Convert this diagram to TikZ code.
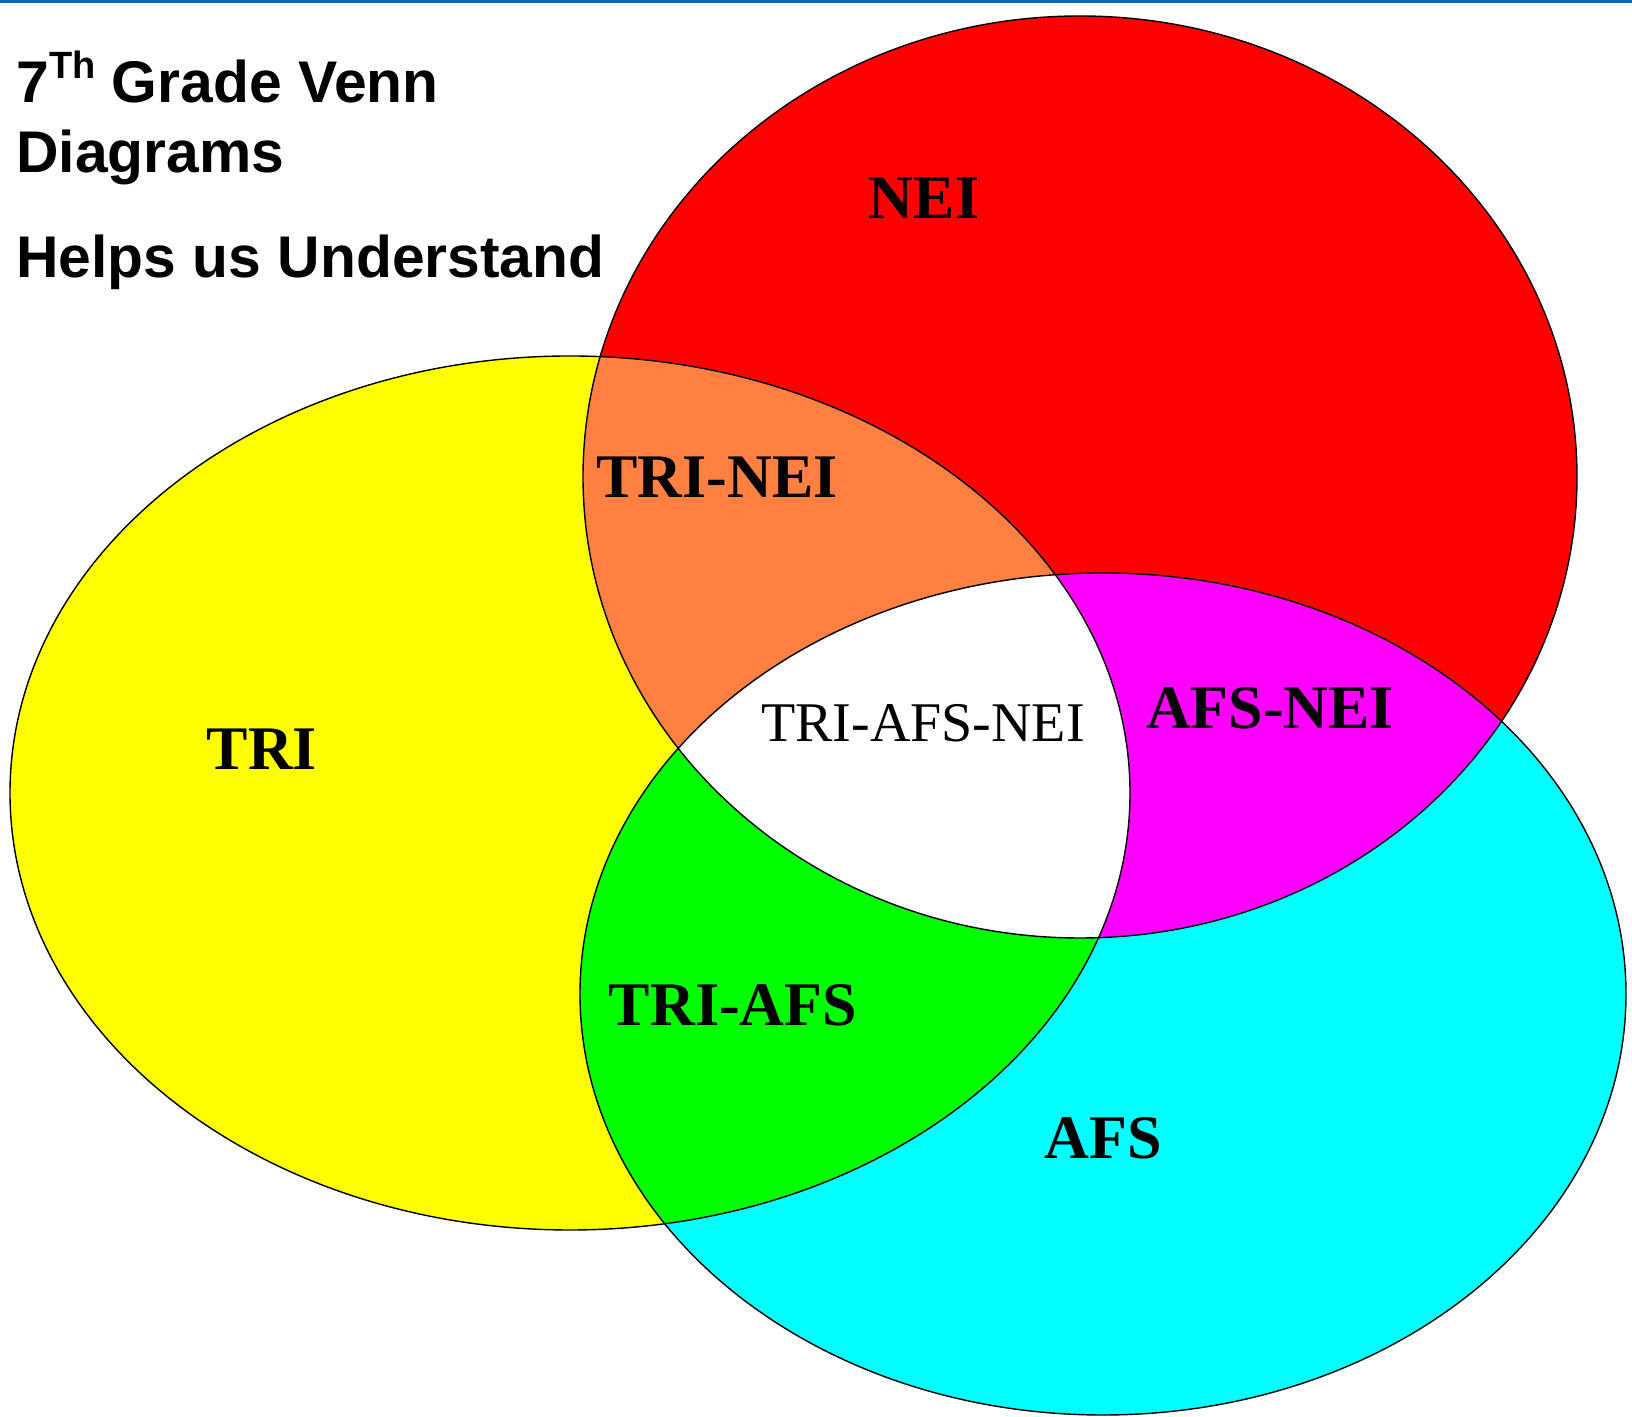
\documentclass[tikz,border=0pt]{standalone}
\usepackage{fontspec}
\setmainfont{Liberation Serif}
\newfontfamily\headfont{Liberation Sans}
\definecolor{topbar}{RGB}{12,102,178}
\definecolor{triset}{RGB}{255,255,0}
\definecolor{neiset}{RGB}{255,0,0}
\definecolor{afsset}{RGB}{0,255,255}
\definecolor{trineiset}{RGB}{255,128,64}
\definecolor{triafsset}{RGB}{0,255,0}
\definecolor{afsneiset}{RGB}{255,0,255}

% the three sets
\def\tripath{(570,624) ellipse [x radius=560, y radius=437]}
\def\neipath{(1080,940) ellipse [x radius=497, y radius=461]}
\def\afspath{(1103,423) ellipse [x radius=523, y radius=421]}

\begin{document}
\begin{tikzpicture}[
        x = 0.5pt,
        y = 0.5pt,
        setline/.style = {draw=black, line width=0.7pt},
        setname/.style = {
            font = \bfseries\fontsize{31}{31}\selectfont,
            inner sep = 0pt
        },
        headline/.style = {
            font = \headfont\bfseries\fontsize{29.4}{35}\selectfont,
            inner sep = 0pt,
            anchor = base west
        }
        ]
        \useasboundingbox (0,0) rectangle (1632,1417);
        \fill[topbar] (0,1413.5) rectangle (1632,1417);
%
        \fill[triset] \tripath;
        \fill[neiset] \neipath;
        \fill[afsset] \afspath;
%
        \begin{scope}
            \clip \tripath;
            \fill[trineiset] \neipath;
            \fill[triafsset] \afspath;
        \end{scope}
        \begin{scope}
            \clip \neipath;
            \fill[afsneiset] \afspath;
        \end{scope}
        \begin{scope}
            \clip \tripath;
            \clip \neipath;
            \fill[white] \afspath;
        \end{scope}
%
        \draw[setline] \tripath;
        \draw[setline] \neipath;
        \draw[setline] \afspath;
%
        \node[headline] (title) at (16,1314)
            {7\raisebox{12pt}{\fontsize{19}{20}\selectfont Th} Grade Venn};
        \node[headline] (diagrams) at (16,1244) {Diagrams};
        \node[headline] (helps) at (16,1139) {Helps us Understand};
%
        \node[setname] (nei) at (924,1219) {NEI};
        \node[setname] (trinei) at (717,940) {TRI-NEI};
        \node[setname] (tri) at (262,668) {TRI};
        \node[setname, font=\fontsize{28}{28}\selectfont] (all) at (923,694) {TRI-AFS-NEI};
        \node[setname] (afsnei) at (1270,709) {AFS-NEI};
        \node[setname] (triafs) at (733,412) {TRI-AFS};
        \node[setname] (afs) at (1103,279) {AFS};
\end{tikzpicture}
\end{document}
